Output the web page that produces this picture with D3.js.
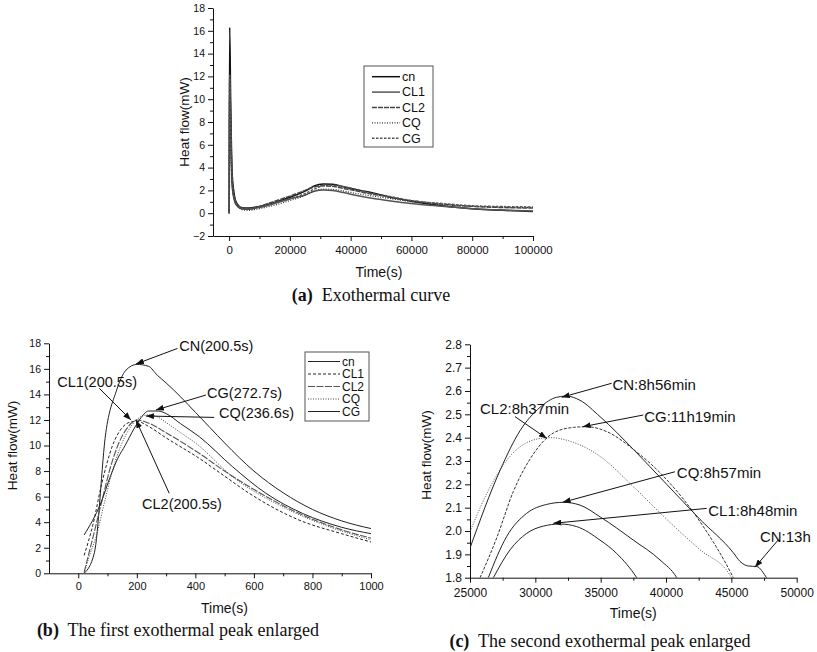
<!DOCTYPE html>
<html>
<head>
<meta charset="utf-8">
<script src="https://cdn.jsdelivr.net/npm/d3@7"></script>
<style>
  body { margin: 0; background: #fff; }
  svg text { font-family: "Liberation Sans", Arial, sans-serif; fill: #111; }
  svg text.cap { font-family: "Liberation Serif", "Times New Roman", serif; }
</style>
</head>
<body>
<svg id="fig" width="817" height="652"></svg>
<script>
// ---------- data ----------
var seriesNames = ["cn", "CL1", "CL2", "CQ", "CG"];

// (a) whole curve, time in s, heat flow in mW
var timeA = [0, 30, 200, 500, 1000, 1500, 2000, 3000, 4000, 6000, 8000, 10000, 15000, 20000,
             25000, 28000, 31000, 34000, 38000, 42000, 46000, 50000, 55000, 60000, 70000, 80000, 90000, 100000];
var cnA  = [0, 0.3, 16.3, 10.2, 3.5, 2.0, 1.2, 0.7, 0.5, 0.45, 0.5, 0.6, 0.95, 1.4,
            1.93, 2.4, 2.57, 2.55, 2.3, 2.05, 1.86, 1.6, 1.3, 1.05, 0.65, 0.4, 0.25, 0.15];
var cl1A = [0, 1.6, 11.9, 7.6, 2.45, 1.4, 0.9, 0.55, 0.4, 0.35, 0.4, 0.5, 0.85, 1.25,
            1.6, 1.92, 2.03, 1.99, 1.79, 1.55, 1.35, 1.2, 1.0, 0.85, 0.6, 0.4, 0.28, 0.2];
var cl2A = [0, 0.4, 12.0, 8.0, 2.75, 1.5, 1.0, 0.6, 0.45, 0.4, 0.45, 0.6, 1.05, 1.5,
            2.0, 2.3, 2.4, 2.36, 2.15, 1.95, 1.72, 1.55, 1.3, 1.1, 0.8, 0.6, 0.5, 0.45];
var cqA  = [0, 0.1, 12.1, 7.6, 2.62, 1.6, 1.0, 0.55, 0.35, 0.25, 0.3, 0.4, 0.7, 1.1,
            1.55, 1.95, 2.11, 2.09, 1.93, 1.72, 1.55, 1.4, 1.2, 1.0, 0.75, 0.6, 0.55, 0.5];
var cgA  = [0, 3.1, 12.2, 8.4, 3.1, 1.7, 1.1, 0.65, 0.45, 0.4, 0.45, 0.55, 0.9, 1.3,
            1.72, 2.12, 2.4, 2.445, 2.32, 2.07, 1.78, 1.6, 1.35, 1.1, 0.85, 0.65, 0.58, 0.55];

// (b) first peak, [time s, heat flow mW]
var cnB  = [[20,0],[55,1.6],[94,11.0],[129,14.2],[163,15.9],[200.5,16.35],[240,16.2],[270,15.5],[300,14.9],
            [350,13.8],[400,12.6],[450,11.4],[500,10.2],[600,8.0],[700,6.3],[800,5.0],[900,4.1],[1000,3.5]];
var cl1B = [[20,1.4],[50,3.8],[80,7.0],[117,10.0],[150,11.4],[180,11.85],[200.5,11.9],[242,11.47],[300,10.6],
            [413,9.0],[500,7.6],[584,6.26],[754,4.17],[900,3.1],[1000,2.45]];
var cl2B = [[20,0.1],[50,2.8],[80,5.6],[110,8.3],[135,10.0],[165,11.3],[200.5,12.0],[242,11.74],[300,11.0],
            [413,9.39],[500,8.0],[584,6.78],[754,4.69],[900,3.4],[1000,2.75]];
var cqB  = [[20,0],[40,1.5],[60,2.8],[90,5.6],[120,8.3],[146,10.0],[180,11.5],[210,12.2],[236.6,12.4],[270,12.25],
            [300,11.8],[350,11.0],[402,10.17],[527,7.56],[697,5.21],[850,3.7],[1000,2.62]];
var cgB  = [[20,3.0],[77,5.5],[110,7.6],[135,9.0],[160,10.0],[190,11.3],[215,12.2],[240,12.7],[272.7,12.7],
            [300,12.5],[350,11.7],[413,10.7],[527,8.34],[641,6.26],[766,4.69],[900,3.6],[1000,3.1]];

// (c) second peak, [time s, heat flow mW]
var cnC  = [[25000,1.927],[27300,2.26],[28830,2.43],[30360,2.53],[31630,2.573],[32400,2.578],[33420,2.56],
            [34950,2.49],[37500,2.35],[40050,2.20],[42600,2.05],[45150,1.907],[45660,1.87],[46300,1.85],
            [46940,1.848],[47700,1.8],[48200,1.76]];
var cl1C = [[26790,1.8],[28060,1.919],[29340,1.99],[30610,2.021],[31890,2.03],[33160,2.019],[34950,1.961],
            [36220,1.904],[37760,1.8],[38200,1.76]];
var cl2C = [[25000,1.997],[26280,2.16],[28060,2.32],[29850,2.39],[31120,2.40],[32910,2.38],[34950,2.32],
            [37500,2.19],[40050,2.05],[42600,1.92],[44900,1.81],[45300,1.77]];
var cqC  = [[26400,1.8],[27800,1.976],[29340,2.076],[30870,2.114],[32140,2.123],[33420,2.111],[34950,2.061],
            [37500,1.961],[39540,1.876],[40820,1.8],[41200,1.76]];
var cgC  = [[25770,1.8],[27040,1.97],[28320,2.17],[29850,2.33],[31380,2.42],[32910,2.444],[33930,2.447],
            [35460,2.426],[37500,2.35],[40050,2.22],[42600,2.04],[45150,1.80],[45500,1.76]];

// annotations: label, text position, arrow tail, arrow tip (data units)
var notesB = [
  ["CN(200.5s)",  [345, 17.8],  [339, 17.6],   [197, 16.38]],
  ["CL1(200.5s)", [-72, 15.0],  [71.7, 14.48], [180, 12.0]],
  ["CG(272.7s)",  [440, 14.13], [436, 13.95],  [265, 12.78]],
  ["CQ(236.6s)",  [481, 12.57], [464, 12.2],   [231, 12.31]],
  ["CL2(200.5s)", [218, 5.42],  [310.6, 6.26], [197, 12.0]]
];
var notesC = [
  ["CN:8h56min",  [35900, 2.626], [35842, 2.633], [32016, 2.573]],
  ["CL2:8h37min", [25765, 2.523], [28443, 2.49],  [30868, 2.397]],
  ["CG:11h19min", [38330, 2.489], [38259, 2.497], [33623, 2.447]],
  ["CQ:8h57min",  [40830, 2.249], [40685, 2.254], [32093, 2.123]],
  ["CL1:8h48min", [43230, 2.087], [43110, 2.097], [31373, 2.033]],
  ["CN:13h",      [47188, 1.976], [48590, 1.962], [46806, 1.845]]
];

// ---------- styles ----------
var styleA = {
  cn:  {color: "#111", dash: null,      w: 1.5},
  CL1: {color: "#555", dash: null,      w: 1.5},
  CL2: {color: "#444", dash: "5,1",     w: 1.5},
  CQ:  {color: "#333", dash: "1,1.5",   w: 1.2},
  CG:  {color: "#555", dash: "2.5,1.5", w: 1.5}
};
var styleB = {
  cn:  {color: "#222", dash: null,    w: 1},
  CL1: {color: "#222", dash: "3,2",   w: 1},
  CL2: {color: "#555", dash: "7,1.5", w: 1.1},
  CQ:  {color: "#444", dash: "1,1.5", w: 1},
  CG:  {color: "#222", dash: null,    w: 1}
};
var styleC = {
  cn:  {color: "#222", dash: null,    w: 1},
  CL1: {color: "#222", dash: null,    w: 1},
  CL2: {color: "#555", dash: "1,1.5", w: 1},
  CQ:  {color: "#222", dash: null,    w: 1},
  CG:  {color: "#333", dash: "3,1.5", w: 1}
};

var svg = d3.select("#fig");

// arrow head for the annotations
svg.append("defs").append("marker")
    .attr("id", "arrow")
    .attr("markerUnits", "userSpaceOnUse")
    .attr("markerWidth", 8).attr("markerHeight", 6)
    .attr("refX", 8).attr("refY", 3)
    .attr("orient", "auto")
  .append("path")
    .attr("d", "M0,0L8,3L0,6Z")
    .attr("fill", "#111");

// draws one axis pair with major + minor ticks
function drawAxes(g, x, y, o) {
  var yb = y.range()[0], xl = x.range()[0];

  var xm = g.append("g").attr("transform", "translate(0," + yb + ")")
      .call(d3.axisBottom(x).tickValues(o.xMinor).tickSize(3).tickFormat(""));
  xm.select(".domain").remove();
  var xa = g.append("g").attr("transform", "translate(0," + yb + ")")
      .call(d3.axisBottom(x).tickValues(o.xMajor).tickSize(5).tickSizeOuter(0)
            .tickPadding(o.xPad).tickFormat(o.xFmt || d3.format("d")));
  xa.attr("font-size", o.xFont);

  var ym = g.append("g").attr("transform", "translate(" + xl + ",0)")
      .call(d3.axisLeft(y).tickValues(o.yMinor).tickSize(3).tickFormat(""));
  ym.select(".domain").remove();
  var ya = g.append("g").attr("transform", "translate(" + xl + ",0)")
      .call(d3.axisLeft(y).tickValues(o.yMajor).tickSize(5).tickSizeOuter(0)
            .tickPadding(o.yPad).tickFormat(o.yFmt || d3.format("d")));
  ya.attr("font-size", o.yFont);

  g.selectAll(".domain, .tick line").attr("stroke", "#111");

  g.append("text")
      .attr("x", o.xTitle[0]).attr("y", o.xTitle[1])
      .attr("text-anchor", "middle").attr("font-size", 14)
      .text("Time(s)");
  g.append("text")
      .attr("transform", "translate(" + o.yTitle[0] + "," + o.yTitle[1] + ") rotate(-90)")
      .attr("text-anchor", "middle").attr("dy", "0.35em").attr("font-size", 13.5)
      .text("Heat flow(mW)");
}

function drawLines(g, x, y, data, styles, clipId) {
  var line = d3.line().x(d => x(d[0])).y(d => y(d[1])).curve(d3.curveMonotoneX);
  var lg = g.append("g");
  if (clipId) lg.attr("clip-path", "url(#" + clipId + ")");
  seriesNames.forEach((name, i) => {
    var s = styles[name];
    lg.append("path")
        .datum(data[i])
        .attr("d", line)
        .attr("fill", "none")
        .attr("stroke", s.color)
        .attr("stroke-width", s.w)
        .attr("stroke-dasharray", s.dash);
  });
}

function addClip(id, x, y) {
  svg.select("defs").append("clipPath").attr("id", id)
    .append("rect")
      .attr("x", x.range()[0]).attr("y", y.range()[1])
      .attr("width", x.range()[1] - x.range()[0])
      .attr("height", y.range()[0] - y.range()[1]);
}

function drawLegend(g, box, rows, styles, font) {
  g.append("rect")
      .attr("x", box[0]).attr("y", box[1])
      .attr("width", box[2]).attr("height", box[3])
      .attr("fill", "#fff").attr("stroke", "#555");
  seriesNames.forEach((name, i) => {
    var s = styles[name], yy = rows[0] + i * rows[1];
    g.append("line")
        .attr("x1", box[0] + rows[2]).attr("x2", box[0] + rows[3])
        .attr("y1", yy).attr("y2", yy)
        .attr("stroke", s.color).attr("stroke-width", s.w)
        .attr("stroke-dasharray", s.dash);
    g.append("text")
        .attr("x", box[0] + rows[3] + 2).attr("y", yy)
        .attr("dy", "0.35em").attr("font-size", font)
        .text(name);
  });
}

function drawNotes(g, x, y, notes, font) {
  notes.forEach(n => {
    g.append("line")
        .attr("x1", x(n[2][0])).attr("y1", y(n[2][1]))
        .attr("x2", x(n[3][0])).attr("y2", y(n[3][1]))
        .attr("stroke", "#111").attr("stroke-width", 1)
        .attr("marker-end", "url(#arrow)");
    g.append("text")
        .attr("x", x(n[1][0])).attr("y", y(n[1][1]))
        .attr("dy", "0.35em").attr("font-size", font)
        .text(n[0]);
  });
}

function caption(x, y, tag, rest) {
  var t = svg.append("text").attr("class", "cap")
      .attr("x", x).attr("y", y)
      .attr("text-anchor", "middle").attr("font-size", 18);
  t.append("tspan").attr("font-weight", "bold").text(tag);
  t.append("tspan").text("\u00a0 " + rest);
}

// ---------- panel (a) ----------
var xA = d3.scaleLinear().domain([-5300, 100000]).range([213, 533]);
var yA = d3.scaleLinear().domain([-2, 18]).range([236, 8]);
var gA = svg.append("g");
drawAxes(gA, xA, yA, {
  xMajor: d3.range(0, 100001, 20000), xMinor: d3.range(10000, 100000, 20000),
  yMajor: d3.range(-2, 19, 2), yMinor: d3.range(-1, 18, 2),
  xPad: 5, yPad: 3, xFont: 11.5, yFont: 10.5,
  xTitle: [379, 276.5], yTitle: [184, 122]
});
drawLines(gA, xA, yA,
  [cnA, cl1A, cl2A, cqA, cgA].map(v => v.map((d, i) => [timeA[i], d])), styleA);
drawLegend(gA, [364, 66, 69, 81], [76.7, 15.4, 8, 36], styleA, 12.5);
caption(371, 300.5, "(a)", "Exothermal curve");

// ---------- panel (b) ----------
var xB = d3.scaleLinear().domain([-100, 1000]).range([49, 371]);
var yB = d3.scaleLinear().domain([0, 18]).range([573.3, 343.3]);
var gB = svg.append("g");
addClip("clipB", xB, yB);
drawAxes(gB, xB, yB, {
  xMajor: d3.range(0, 1001, 200), xMinor: d3.range(100, 1000, 200),
  yMajor: d3.range(0, 19, 2), yMinor: d3.range(1, 18, 2),
  xPad: 4, yPad: 3, xFont: 11, yFont: 10.5,
  xTitle: [224.5, 612.8], yTitle: [12.5, 445.5]
});
drawLines(gB, xB, yB, [cnB, cl1B, cl2B, cqB, cgB], styleB, "clipB");
drawLegend(gB, [305, 352, 64, 69], [361.5, 12.5, 3, 35], styleB, 12);
drawNotes(gB, xB, yB, notesB, 14.5);
caption(178, 635.5, "(b)", "The first exothermal peak enlarged");

// ---------- panel (c) ----------
var xC = d3.scaleLinear().domain([25000, 50000]).range([470, 796.7]);
var yC = d3.scaleLinear().domain([1.8, 2.8]).range([577.7, 344.3]);
var gC = svg.append("g");
addClip("clipC", xC, yC);
drawAxes(gC, xC, yC, {
  xMajor: d3.range(25000, 50001, 5000), xMinor: d3.range(27500, 50000, 5000),
  yMajor: d3.range(18, 29).map(v => v / 10), yMinor: d3.range(18, 28).map(v => v / 10 + 0.05),
  xPad: 6, yPad: 3, xFont: 12, yFont: 12, yFmt: d3.format(".1f"),
  xTitle: [633.3, 618], yTitle: [426.7, 455]
});
drawLines(gC, xC, yC, [cnC, cl1C, cl2C, cqC, cgC], styleC, "clipC");
drawNotes(gC, xC, yC, notesC, 15);
caption(600, 647, "(c)", "The second exothermal peak enlarged");
</script>
</body>
</html>
